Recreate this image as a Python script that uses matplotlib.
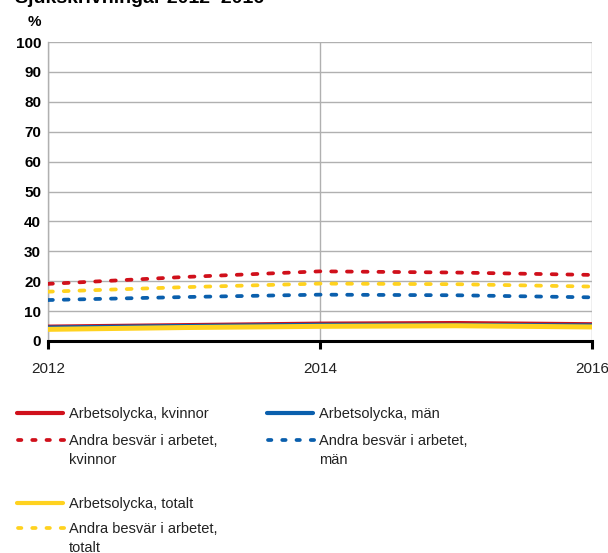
import matplotlib
matplotlib.use("Agg")
import matplotlib.pyplot as plt
from matplotlib.lines import Line2D

plt.rcParams['font.family'] = ['Liberation Sans', 'DejaVu Sans']

years = [2012, 2013, 2014, 2015, 2016]
olycka_kvinnor = [4.8, 5.3, 5.8, 6.0, 5.6]
olycka_man = [4.5, 5.0, 5.4, 5.4, 5.2]
olycka_totalt = [3.9, 4.5, 4.9, 5.1, 4.7]
besvar_kvinnor = [19.1, 21.4, 23.3, 22.9, 22.1]
besvar_man = [13.7, 14.7, 15.5, 15.3, 14.6]
besvar_totalt = [16.5, 18.0, 19.2, 19.0, 18.2]

x_ticks = [2012, 2014, 2016]
y_ticks = [0, 10, 20, 30, 40, 50, 60, 70, 80, 90, 100]
title = "Sjukskrivningar 2012\u20132016"

RED = "#d0101b"
BLUE = "#0a5fad"
YEL = "#ffd21f"

W, H = 608, 553
fig = plt.figure(figsize=(W / 100, H / 100), dpi=100)
ax = fig.add_axes([48 / W, 1 - 341 / H, (592 - 48) / W, (341 - 42) / H])

dash = (1.3, 2.9)
ax.plot(years, olycka_kvinnor, color=RED, lw=3.0, solid_capstyle='butt', zorder=3)
ax.plot(years, olycka_man, color=BLUE, lw=3.0, solid_capstyle='butt', zorder=3)
ax.plot(years, olycka_totalt, color=YEL, lw=3.6, solid_capstyle='butt', zorder=4)
ax.plot(years, besvar_kvinnor, color=RED, lw=2.7, dashes=dash, dash_capstyle='round', zorder=3)
ax.plot(years, besvar_totalt, color=YEL, lw=2.7, dashes=dash, dash_capstyle='round', zorder=3)
ax.plot(years, besvar_man, color=BLUE, lw=2.7, dashes=dash, dash_capstyle='round', zorder=3)

ax.set_xlim(2012, 2016)
ax.set_ylim(0, 100)
ax.set_yticks(y_ticks)
ax.set_yticklabels([str(v) for v in y_ticks], fontsize=11, fontweight='bold')
ax.set_xticks(x_ticks)
ax.set_xticklabels([str(v) for v in x_ticks], fontsize=11, color='#222222')
ax.tick_params(axis='y', length=0, pad=5)
ax.tick_params(axis='x', length=6, width=2.2, color='black', pad=9)
ax.grid(True, color='#b0b0b0', lw=1.0, zorder=0)
for s in ['top', 'right']:
    ax.spines[s].set_visible(False)
ax.spines['left'].set_color('#b0b0b0')
ax.spines['left'].set_linewidth(1.0)
ax.spines['bottom'].set_color('black')
ax.spines['bottom'].set_linewidth(2.2)
ax.spines['bottom'].set_zorder(5)
ax.set_axisbelow(True)
for lab in ax.get_xticklabels():
    lab.set_clip_on(False)

fig.text(28 / W, 1 - 22 / H, "%", fontsize=11, fontweight='bold', va='center', ha='left')
fig.text(15 / W, 1 - 3 / H, title, fontsize=14, fontweight='bold', va='baseline', ha='left')

def leg(x0, y, color, solid, label):
    if solid:
        ln = Line2D([x0 / W, (x0 + 46) / W], [1 - y / H, 1 - y / H], transform=fig.transFigure,
                    color=color, lw=3.0, solid_capstyle='round')
    else:
        ln = Line2D([(x0 + 1) / W, (x0 + 48) / W], [1 - y / H, 1 - y / H], transform=fig.transFigure,
                    color=color, lw=2.7, dashes=(0.9, 2.9), dash_capstyle='round')
    fig.add_artist(ln)
    for i, part in enumerate(label.split("\n")):
        fig.text((x0 + 52) / W, 1 - (y + 5 + 18.5 * i) / H, part, fontsize=10.5,
                 va='baseline', ha='left', color='#222222')

leg(17, 413, RED, True, "Arbetsolycka, kvinnor")
leg(267, 413, BLUE, True, "Arbetsolycka, män")
leg(17, 440, RED, False, "Andra besvär i arbetet,\nkvinnor")
leg(267, 440, BLUE, False, "Andra besvär i arbetet,\nmän")
leg(17, 503, YEL, True, "Arbetsolycka, totalt")
leg(17, 528, YEL, False, "Andra besvär i arbetet,\ntotalt")

fig.savefig("out.png", dpi=100)
